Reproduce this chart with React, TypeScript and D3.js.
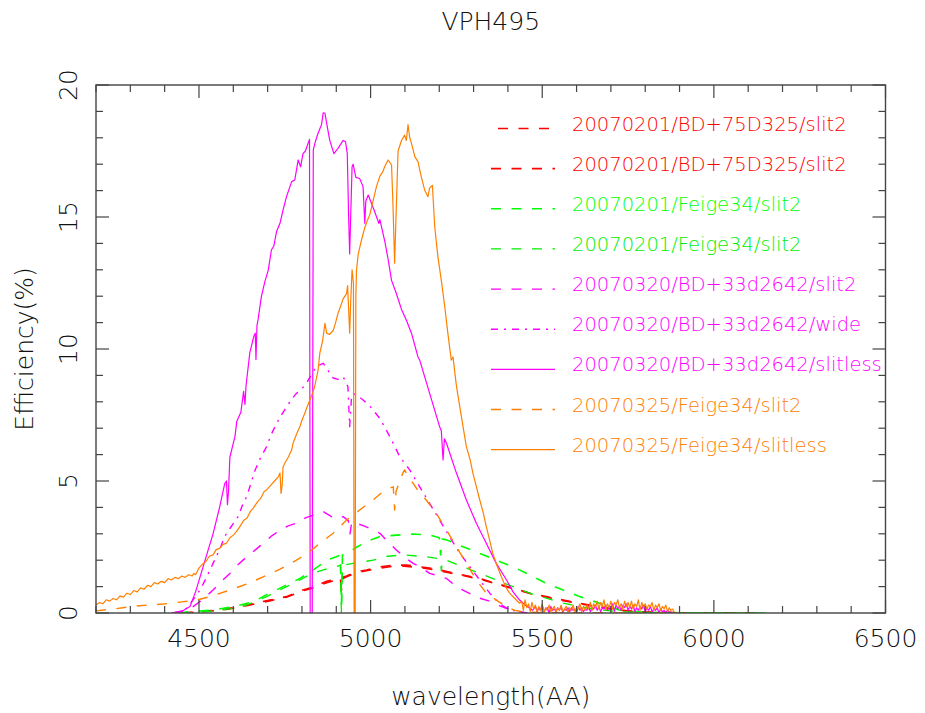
import React from 'react';
import * as d3 from 'd3';

const TITLE = 'VPH495';
const X_LABEL = 'wavelength(AA)';
const Y_LABEL = 'Efficiency(%)';
const X_DOMAIN = [4200, 6500];
const Y_DOMAIN = [0, 20];
const X_TICK_LABELS = [4500, 5000, 5500, 6000, 6500];
const Y_TICK_LABELS = [0, 5, 10, 15, 20];

const LEGEND_LABELS = [
  '20070201/BD+75D325/slit2',
  '20070201/BD+75D325/slit2',
  '20070201/Feige34/slit2',
  '20070201/Feige34/slit2',
  '20070320/BD+33d2642/slit2',
  '20070320/BD+33d2642/wide',
  '20070320/BD+33d2642/slitless',
  '20070325/Feige34/slit2',
  '20070325/Feige34/slitless',
];

type P = [number, number];

const RED_A: P[] = [
  [4450, 0], [4500, 0.05], [4560, 0.12], [4600, 0.2], [4639, 0.3], [4706, 0.49], [4755, 0.62],
  [4803, 0.87], [4833, 0.98], [4872, 1.2], [4905, 1.3], [4912, 1.3], [4915, 0.9], [4918, 1.35],
  [4930, 1.4], [4959, 1.56], [4988, 1.63], [5027, 1.75], [5060, 1.8], [5104, 1.82], [5143, 1.75],
  [5182, 1.69], [5201, 1.63], [5269, 1.44], [5318, 1.31], [5366, 1.12], [5415, 0.94], [5464, 0.75],
  [5512, 0.62], [5561, 0.49], [5609, 0.37], [5667, 0.24], [5725, 0.11], [5800, 0.04], [5900, 0.01], [6150, 0],
];

const RED_B: P[] = [
  [4455, 0], [4505, 0.05], [4560, 0.1], [4600, 0.18], [4639, 0.28], [4706, 0.46], [4755, 0.6],
  [4803, 0.84], [4833, 0.95], [4872, 1.15], [4905, 1.27], [4912, 1.28], [4915, 0.85], [4918, 1.3],
  [4930, 1.37], [4959, 1.52], [4988, 1.6], [5027, 1.7], [5060, 1.76], [5090, 1.78], [5143, 1.72],
  [5182, 1.65], [5201, 1.6], [5269, 1.42], [5318, 1.28], [5366, 1.1], [5415, 0.92], [5464, 0.74],
  [5512, 0.6], [5561, 0.47], [5609, 0.35], [5667, 0.22], [5725, 0.1], [5800, 0.03], [5900, 0.01], [6150, 0],
];

const GRN_A: P[] = [
  [4440, 0], [4474, 0.05], [4541, 0.11], [4600, 0.24], [4658, 0.43], [4706, 0.75], [4755, 1.06],
  [4794, 1.31], [4833, 1.63], [4872, 2.0], [4900, 2.13], [4912, 2.2], [4915, 0.3], [4918, 2.2],
  [4939, 2.32], [4960, 2.5], [4988, 2.7], [5027, 2.9], [5075, 2.95], [5124, 2.99], [5172, 2.95],
  [5200, 2.85], [5204, 2.2], [5208, 2.8], [5221, 2.77], [5269, 2.51], [5318, 2.26], [5366, 2.0],
  [5415, 1.75], [5464, 1.44], [5512, 1.12], [5561, 0.87], [5609, 0.62], [5667, 0.37], [5725, 0.11],
  [5800, 0.03], [5900, 0.01], [6150, 0],
];

const GRN_B: P[] = [
  [4450, 0], [4500, 0.03], [4560, 0.1], [4600, 0.18], [4639, 0.3], [4697, 0.62], [4755, 1.0],
  [4794, 1.25], [4830, 1.5], [4862, 1.63], [4895, 1.75], [4912, 1.8], [4915, 0], [4918, 1.8],
  [4949, 1.88], [5007, 2.0], [5050, 2.15], [5094, 2.2], [5162, 2.13], [5203, 2.05], [5206, 1.6],
  [5209, 2.0], [5221, 2.0], [5269, 1.75], [5318, 1.5], [5366, 1.25], [5415, 1.0], [5464, 0.75],
  [5512, 0.56], [5561, 0.37], [5609, 0.24], [5667, 0.12], [5725, 0.05], [5800, 0.02], [6150, 0],
];

const MAG_SLIT2: P[] = [
  [4425, 0], [4450, 0.05], [4483, 0.24], [4510, 0.5], [4541, 0.87], [4565, 1.2], [4590, 1.5],
  [4615, 1.85], [4639, 2.13], [4665, 2.4], [4687, 2.64], [4710, 2.9], [4736, 3.14], [4760, 3.3],
  [4784, 3.4], [4810, 3.6], [4833, 3.71], [4862, 3.84], [4880, 3.7], [4891, 3.59], [4920, 3.65],
  [4935, 3.5], [4940, 3.0], [4945, 3.45], [4959, 3.4], [4980, 3.3], [4998, 3.2], [5027, 3.02],
  [5050, 2.7], [5075, 2.39], [5100, 2.1], [5124, 1.88], [5150, 1.7], [5172, 1.5], [5200, 1.4],
  [5221, 1.31], [5245, 1.05], [5269, 0.87], [5295, 0.7], [5318, 0.56], [5347, 0.45], [5370, 0.3],
  [5390, 0.2], [5420, 0.1], [5450, 0],
];

const MAG_WIDE: P[] = [
  [4425, 0], [4445, 0.05], [4464, 0.18], [4480, 0.45], [4503, 0.87], [4520, 1.3], [4541, 1.88],
  [4560, 2.4], [4575, 2.9], [4590, 3.2], [4614, 3.65], [4630, 4.2], [4639, 4.4], [4663, 5.4],
  [4680, 5.9], [4697, 6.3], [4710, 6.75], [4726, 7.18], [4740, 7.5], [4755, 7.8], [4770, 8.1],
  [4784, 8.32], [4800, 8.5], [4813, 8.7], [4826, 9.0], [4842, 9.33], [4862, 9.46], [4875, 9.2],
  [4891, 8.9], [4905, 8.85], [4920, 8.95], [4934, 8.57], [4939, 7.06], [4944, 8.1], [4949, 8.32],
  [4965, 8.2], [4978, 8.07], [4993, 7.9], [5007, 7.69], [5027, 7.37], [5056, 6.68], [5085, 5.92],
  [5114, 5.42], [5143, 4.78], [5172, 4.15], [5201, 3.52], [5230, 2.89], [5260, 2.26], [5289, 1.75],
  [5318, 1.25], [5347, 0.75], [5376, 0.35], [5400, 0.15], [5430, 0.05], [5460, 0],
];

const MAG_SLITLESS_BODY: P[] = [
  [4420, 0], [4440, 0.05], [4455, 0.1], [4474, 0.25], [4490, 0.8], [4503, 1.36], [4520, 2.1],
  [4541, 3.0], [4560, 4.0], [4575, 4.9], [4580, 5.0], [4583, 4.1], [4586, 4.6], [4590, 5.9],
  [4605, 6.7], [4610, 7.25], [4622, 7.6], [4630, 8.4], [4634, 7.9], [4637, 8.6], [4648, 9.85],
  [4660, 10.5], [4664, 10.6], [4666, 9.6], [4669, 10.9], [4672, 11.1], [4682, 12.0], [4692, 12.55],
  [4702, 13.0], [4711, 13.75], [4718, 13.9], [4726, 14.45], [4736, 14.76], [4745, 15.27],
  [4755, 15.77], [4770, 16.34], [4779, 16.4], [4789, 17.16], [4796, 16.9], [4803, 17.4],
  [4810, 17.5], [4818, 17.8], [4822, 17.94], [4824, 0], [4830, 0], [4833, 17.54], [4840, 17.9],
  [4847, 18.17], [4857, 18.5], [4862, 18.95], [4867, 18.93], [4872, 18.55], [4881, 17.9],
  [4893, 17.4], [4905, 17.6], [4920, 17.9], [4927, 17.85], [4932, 17.4], [4936, 15.0], [4939, 13.6],
  [4943, 15.5], [4946, 16.9], [4949, 17.0], [4957, 16.5], [4968, 16.46], [4978, 16.15],
  [4983, 14.76], [4986, 15.6], [4993, 15.83], [5012, 15.2], [5024, 14.76], [5027, 14.9],
  [5041, 14.1], [5051, 13.4], [5061, 12.6], [5075, 12.1], [5090, 11.5], [5104, 11.1], [5119, 10.6],
  [5138, 9.7], [5143, 9.58], [5172, 8.32], [5201, 7.06], [5206, 6.9], [5211, 5.8], [5215, 6.6],
  [5221, 6.43], [5250, 5.3], [5279, 4.28], [5308, 3.4], [5337, 2.64], [5366, 1.88], [5396, 1.25],
  [5415, 0.8], [5434, 0.49], [5450, 0.3], [5472, 0.1],
];
const MAG_TAIL_START = 5480;
const MAG_TAIL_STEP = 5;
const MAG_TAIL = [
  0.25, 0.05, 0.2, 0.1, 0.3, 0.05, 0.15, 0.2, 0.0, 0.25, 0.1, 0.15, 0.05, 0.2, 0.1, 0.25, 0.0, 0.15, 0.1, 0.2,
  0.05, 0.2, 0.1, 0.15, 0.0, 0.25, 0.1, 0.2, 0.05, 0.15, 0.1, 0.25, 0.05, 0.2, 0.15, 0.3, 0.1, 0.25, 0.05, 0.2,
  0.15, 0.3, 0.1, 0.25, 0.2, 0.35, 0.05, 0.3, 0.15, 0.25, 0.1, 0.3, 0.2, 0.35, 0.1, 0.25, 0.15, 0.3, 0.05, 0.2,
  0.1, 0.25, 0.15, 0.3, 0.05, 0.2, 0.1, 0.25, 0.05, 0.15, 0.1, 0.2, 0.0, 0.15, 0.05, 0.1, 0.0, 0.1, 0.05, 0.02,
  0,
];

const ORG_SLIT2: P[] = [
  [4200, 0.08], [4250, 0.15], [4299, 0.24], [4350, 0.3], [4396, 0.34], [4450, 0.42], [4493, 0.49],
  [4540, 0.65], [4590, 0.87], [4640, 1.1], [4687, 1.37], [4735, 1.65], [4784, 2.0], [4820, 2.3],
  [4852, 2.64], [4891, 3.02], [4930, 3.52], [4968, 3.9], [5007, 4.28], [5027, 4.5], [5046, 4.66],
  [5060, 4.75], [5066, 4.78], [5070, 3.9], [5074, 4.6], [5085, 5.0], [5094, 5.3], [5099, 5.42],
  [5110, 5.15], [5124, 4.91], [5140, 4.6], [5162, 4.28], [5191, 3.78], [5221, 3.14], [5250, 2.51],
  [5279, 1.88], [5308, 1.25], [5337, 0.75], [5366, 0.49], [5396, 0.24], [5420, 0.1], [5450, 0.03],
  [5600, 0.01], [5900, 0],
];

const ORG_SLITLESS_BODY: P[] = [
  [4200, 0.3], [4210, 0.4], [4220, 0.35], [4230, 0.5], [4240, 0.45], [4250, 0.55], [4260, 0.5],
  [4270, 0.65], [4280, 0.6], [4290, 0.75], [4300, 0.7], [4310, 0.85], [4320, 0.8], [4330, 0.95],
  [4340, 0.9], [4350, 1.05], [4360, 1.0], [4370, 1.15], [4380, 1.1], [4390, 1.2], [4400, 1.15],
  [4410, 1.3], [4420, 1.25], [4430, 1.35], [4440, 1.3], [4450, 1.4], [4460, 1.35], [4470, 1.45],
  [4480, 1.4], [4485, 1.5], [4490, 1.45], [4500, 1.7], [4510, 1.85], [4520, 1.95], [4530, 2.15],
  [4541, 2.2], [4550, 2.4], [4560, 2.45], [4570, 2.6], [4580, 2.64], [4590, 2.85], [4600, 2.95],
  [4610, 3.1], [4619, 3.27], [4630, 3.5], [4640, 3.6], [4650, 3.85], [4658, 3.97], [4670, 4.2],
  [4680, 4.35], [4690, 4.6], [4697, 4.66], [4710, 4.85], [4720, 5.0], [4731, 5.16], [4736, 5.3],
  [4739, 4.53], [4742, 4.8], [4745, 5.54], [4750, 5.67], [4760, 5.9], [4770, 6.17], [4774, 6.43],
  [4785, 6.8], [4794, 7.06], [4800, 7.3], [4808, 7.56], [4815, 7.8], [4823, 8.07], [4830, 8.3],
  [4837, 8.57], [4847, 9.2], [4852, 9.84], [4860, 10.3], [4867, 10.97], [4872, 10.6], [4880, 10.55],
  [4891, 10.7], [4898, 11.0], [4905, 11.35], [4912, 11.6], [4920, 11.9], [4930, 12.1], [4933, 12.4],
  [4936, 11.5], [4939, 10.6], [4942, 11.8], [4946, 13.0], [4950, 12.5], [4952, 0], [4955, 0],
  [4957, 12.0], [4959, 13.0], [4964, 13.6], [4973, 14.1], [4983, 14.6], [4990, 14.85], [4998, 15.1],
  [5007, 15.6], [5017, 16.15], [5027, 16.55], [5035, 16.7], [5041, 16.9], [5051, 17.16], [5061, 16.97],
  [5065, 15.5], [5070, 13.25], [5074, 15.0], [5080, 17.5], [5090, 17.9], [5099, 18.1], [5104, 17.9],
  [5109, 18.5], [5114, 18.0], [5119, 17.8], [5129, 17.28], [5138, 17.1], [5148, 16.5], [5158, 16.0],
  [5167, 15.77], [5172, 16.1], [5180, 16.2], [5187, 14.6], [5196, 13.5], [5206, 12.6], [5216, 11.6],
  [5225, 10.6], [5235, 9.58], [5240, 9.7], [5250, 8.6], [5260, 7.8], [5270, 7.0], [5279, 6.3],
  [5290, 5.8], [5298, 5.3], [5308, 4.8], [5318, 4.28], [5328, 3.8], [5337, 3.27], [5346, 2.8],
  [5356, 2.26], [5368, 1.8], [5381, 1.37], [5393, 1.0], [5405, 0.75], [5420, 0.55], [5434, 0.37],
];
const ORG_TAIL_START = 5440;
const ORG_TAIL_STEP = 5;
const ORG_TAIL = [
  0.45, 0.1, 0.5, 0.2, 0.35, 0.05, 0.4, 0.15, 0.3, 0.05, 0.25, 0.1, 0.35, 0.0, 0.2, 0.1, 0.3, 0.05, 0.15, 0.25, 0.05,
  0.2, 0.1, 0.3, 0.05, 0.15, 0.25, 0.0, 0.2, 0.1, 0.3, 0.05, 0.2, 0.15, 0.35, 0.05, 0.25, 0.1, 0.3, 0.15, 0.4, 0.1,
  0.35, 0.2, 0.45, 0.15, 0.4, 0.25, 0.5, 0.1, 0.35, 0.2, 0.45, 0.15, 0.4, 0.3, 0.5, 0.2, 0.35, 0.15, 0.45, 0.25, 0.4,
  0.2, 0.45, 0.15, 0.35, 0.25, 0.5, 0.1, 0.4, 0.2, 0.35, 0.15, 0.3, 0.25, 0.4, 0.1, 0.3, 0.2, 0.35, 0.1, 0.25, 0.15,
  0.3, 0.05, 0.2, 0.1, 0.15, 0.02, 0,
];

const withTail = (body: P[], start: number, step: number, vals: number[]): P[] =>
  body.concat(vals.map((v, i) => [start + i * step, v] as P));

const SERIES_DATA: P[][] = [
  RED_A,
  RED_B,
  GRN_A,
  GRN_B,
  MAG_SLIT2,
  MAG_WIDE,
  withTail(MAG_SLITLESS_BODY, MAG_TAIL_START, MAG_TAIL_STEP, MAG_TAIL),
  ORG_SLIT2,
  withTail(ORG_SLITLESS_BODY, ORG_TAIL_START, ORG_TAIL_STEP, ORG_TAIL),
];

const SERIES_STYLE = [
  { color: '#ff0000', dash: '10,10.5', width: 1.6, legendOffset: 13.5 },
  { color: '#ff0000', dash: '10,10.5', width: 1.6, legendOffset: 0 },
  { color: '#00ff00', dash: '10,10.5', width: 1.6, legendOffset: 0 },
  { color: '#00ee00', dash: '10,10.5', width: 1.3, legendOffset: 0 },
  { color: '#ff00ff', dash: '10,10.5', width: 1.4, legendOffset: 0 },
  { color: '#ff00ff', dash: '7,6,2,6', width: 1.4, legendOffset: 0 },
  { color: '#ff00ff', dash: '', width: 1.2, legendOffset: 0 },
  { color: '#ff8000', dash: '10,10.5', width: 1.4, legendOffset: 0 },
  { color: '#ff8000', dash: '', width: 1.2, legendOffset: 0 },
];

const W = 925;
const H = 713;
const PL = 96;
const PR = 885.5;
const PT = 85;
const PB = 613;
const FONT = "'DejaVu Sans', 'Liberation Sans', sans-serif";

export default function App() {
  const x = d3.scaleLinear().domain(X_DOMAIN).range([PL, PR]);
  const y = d3.scaleLinear().domain(Y_DOMAIN).range([PB, PT]);
  const line = d3
    .line<P>()
    .x((d) => x(d[0]))
    .y((d) => y(d[1]));

  const xMinor = d3.range(X_DOMAIN[0], X_DOMAIN[1] + 1, 100);
  const yMinor = d3.range(Y_DOMAIN[0], Y_DOMAIN[1] + 0.001, 1);
  const axisColor = '#444';

  return (
    <svg
      width={W}
      height={H}
      style={{ position: 'absolute', left: 0, top: 0, background: '#fff' }}
      fontFamily={FONT}
      fontWeight={200}
    >
      <defs>
        <clipPath id="plotclip">
          <rect x={PL} y={PT} width={PR - PL} height={PB - PT} />
        </clipPath>
      </defs>
      <rect x={0} y={0} width={W} height={H} fill="#fff" />

      <g clipPath="url(#plotclip)">
        {SERIES_DATA.map((d, i) => (
          <path
            key={i}
            d={line(d) || ''}
            fill="none"
            stroke={SERIES_STYLE[i].color}
            strokeWidth={SERIES_STYLE[i].width}
            strokeDasharray={SERIES_STYLE[i].dash || undefined}
            strokeLinejoin="round"
          />
        ))}
      </g>

      {/* frame */}
      <rect x={PL} y={PT} width={PR - PL} height={PB - PT} fill="none" stroke={axisColor} strokeWidth={1.4} />
      {xMinor.map((v) => {
        const major = v % 500 === 0;
        const len = major ? 13 : 7;
        return (
          <g key={'xt' + v}>
            <line x1={x(v)} x2={x(v)} y1={PB} y2={PB - len} stroke={axisColor} strokeWidth={1.2} />
            <line x1={x(v)} x2={x(v)} y1={PT} y2={PT + len} stroke={axisColor} strokeWidth={1.2} />
          </g>
        );
      })}
      {yMinor.map((v) => {
        const major = v % 5 === 0;
        const len = major ? 13 : 7;
        return (
          <g key={'yt' + v}>
            <line x1={PL} x2={PL + len} y1={y(v)} y2={y(v)} stroke={axisColor} strokeWidth={1.2} />
            <line x1={PR} x2={PR - len} y1={y(v)} y2={y(v)} stroke={axisColor} strokeWidth={1.2} />
          </g>
        );
      })}

      {X_TICK_LABELS.map((v) => (
        <text key={'xl' + v} x={x(v)} y={647} textAnchor="middle" fontSize={25} fill="#111">
          {v}
        </text>
      ))}
      {Y_TICK_LABELS.map((v) => (
        <text
          key={'yl' + v}
          transform={`translate(77,${y(v)}) rotate(-90)`}
          textAnchor="middle"
          fontSize={25}
          fill="#111"
        >
          {v}
        </text>
      ))}

      <text x={(PL + PR) / 2} y={30} textAnchor="middle" fontSize={25} fill="#111">
        {TITLE}
      </text>
      <text x={(PL + PR) / 2} y={705} textAnchor="middle" fontSize={25} fill="#111">
        {X_LABEL}
      </text>
      <text transform={`translate(33,${(PT + PB) / 2}) rotate(-90)`} textAnchor="middle" fontSize={25} fill="#111">
        {Y_LABEL}
      </text>

      {LEGEND_LABELS.map((lab, i) => {
        const st = SERIES_STYLE[i];
        const yy = 130.5 + i * 40.15;
        return (
          <g key={'lg' + i}>
            <line
              x1={491}
              x2={555}
              y1={yy - 2}
              y2={yy - 2}
              stroke={st.color}
              strokeWidth={st.width}
              strokeDasharray={st.dash || undefined}
              strokeDashoffset={st.legendOffset}
            />
            <text x={572} y={yy} fontSize={19.5} fill={st.color}>
              {lab}
            </text>
          </g>
        );
      })}
    </svg>
  );
}
